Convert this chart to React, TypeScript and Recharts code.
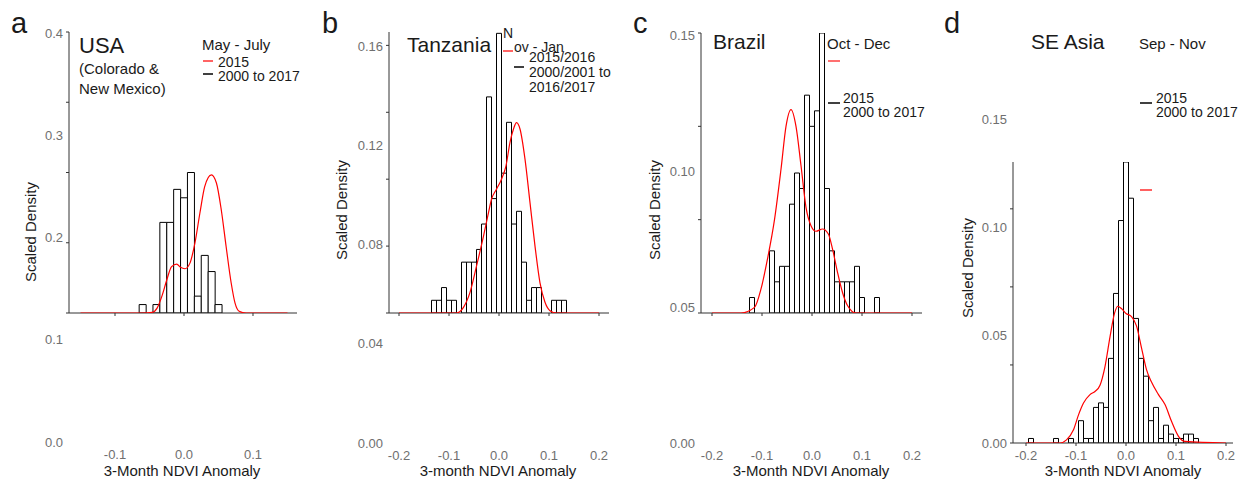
import React from "react";
import { ComposedChart, Bar, Line, XAxis, YAxis } from "recharts";

const FONT = "'Liberation Sans', Arial, Helvetica, sans-serif";
const TICK_GREY = "#6f6f6f";
const INK = "#1a1a1a";
const AXIS = "#333";

// a - USA (Colorado & New Mexico), May - July
const binsA = [-0.06, -0.05, -0.04, -0.03, -0.02, -0.01, 0, 0.01, 0.02, 0.03, 0.04, 0.05];
const histA = [0.012, 0, 0.012, 0.129, 0.129, 0.176, 0.164, 0.2, 0.024, 0.082, 0.059, 0.012];
const curveXA = [-0.15, -0.06, -0.046, -0.039, -0.032, -0.025, -0.018, -0.0105, -0.005, 0.0014, 0.0086, 0.0158, 0.023, 0.03, 0.0397, 0.047, 0.054, 0.061, 0.0684, 0.074, 0.08, 0.09, 0.15];
const curveYA = [0, 0, 0.001, 0.007, 0.024, 0.047, 0.066, 0.0697, 0.065, 0.063, 0.071, 0.0995, 0.142, 0.18, 0.1967, 0.185, 0.147, 0.095, 0.0427, 0.014, 0.0024, 0, 0];

// b - Tanzania, Nov - Jan
const binsB = [-0.13, -0.12, -0.11, -0.1, -0.09, -0.08, -0.07, -0.06, -0.05, -0.04, -0.03, -0.02, -0.01, 0, 0.01, 0.02, 0.03, 0.04, 0.05, 0.06, 0.07, 0.08, 0.09, 0.1, 0.11, 0.12, 0.13];
const histB = [0.0076, 0.0076, 0.0152, 0.0076, 0.0076, 0, 0.0304, 0.0304, 0.0304, 0.038, 0.0532, 0.1292, 0.0684, 0.1672, 0.0836, 0.114, 0.0532, 0.0608, 0.0304, 0.0076, 0.0152, 0.0152, 0, 0, 0.0076, 0.0076, 0.0076];
const curveXB = [-0.2, -0.085, -0.071, -0.058, -0.045, -0.031, -0.021, -0.015, -0.005, 0.005, 0.014, 0.022, 0.029, 0.035, 0.042, 0.052, 0.062, 0.072, 0.082, 0.092, 0.102, 0.115, 0.2];
const curveYB = [0, 0, 0.0034, 0.0123, 0.028, 0.046, 0.06, 0.068, 0.074, 0.08, 0.088, 0.102, 0.11, 0.1138, 0.11, 0.092, 0.066, 0.04, 0.018, 0.0064, 0.0014, 0, 0];

// c - Brazil, Oct - Dec
const binsC = [-0.12, -0.11, -0.1, -0.09, -0.08, -0.07, -0.06, -0.05, -0.04, -0.03, -0.02, -0.01, 0, 0.01, 0.02, 0.03, 0.04, 0.05, 0.06, 0.07, 0.08, 0.09, 0.1, 0.11, 0.12, 0.13];
const histC = [0.0083, 0, 0, 0, 0.0333, 0.0167, 0.025, 0.025, 0.0583, 0.075, 0.0667, 0.1167, 0.1, 0.1083, 0.15, 0.0667, 0.0333, 0.0167, 0.0167, 0.0167, 0.0167, 0.025, 0.0083, 0, 0, 0.0083];
const curveXC = [-0.2, -0.142, -0.115, -0.102, -0.089, -0.075, -0.062, -0.052, -0.042, -0.032, -0.022, -0.012, -0.002, 0.008, 0.021, 0.0327, 0.041, 0.051, 0.061, 0.071, 0.088, 0.2];
const curveYC = [0, 0, 0.003, 0.0129, 0.029, 0.05, 0.077, 0.1, 0.109, 0.1, 0.079, 0.0566, 0.0468, 0.0438, 0.045, 0.0423, 0.0343, 0.0218, 0.011, 0.004, 0, 0];

// d - SE Asia, Sep - Nov
const binsD = [-0.19, -0.18, -0.17, -0.16, -0.15, -0.14, -0.13, -0.12, -0.11, -0.1, -0.09, -0.08, -0.07, -0.06, -0.05, -0.04, -0.03, -0.02, -0.01, 0, 0.01, 0.02, 0.03, 0.04, 0.05, 0.06, 0.07, 0.08, 0.09, 0.1, 0.11, 0.12, 0.13, 0.14];
const histD = [0.0029, 0, 0, 0, 0, 0.0029, 0, 0, 0.0029, 0, 0.0143, 0.0029, 0.0029, 0.0228, 0.0257, 0.0228, 0.0542, 0.0958, 0.1425, 0.18, 0.1568, 0.0798, 0.0542, 0.0428, 0.0143, 0.0228, 0.0029, 0.0114, 0.0057, 0.0029, 0.0029, 0.0057, 0.0057, 0.0029];
const curveXD = [-0.2, -0.132, -0.119, -0.105, -0.095, -0.085, -0.072, -0.062, -0.052, -0.042, -0.032, -0.023, -0.0167, -0.0087, 0, 0.011, 0.021, 0.031, 0.041, 0.051, 0.065, 0.078, 0.091, 0.105, 0.118, 0.2];
const curveYD = [0, 0, 0.002, 0.0085, 0.018, 0.0256, 0.031, 0.033, 0.037, 0.049, 0.068, 0.083, 0.0876, 0.086, 0.083, 0.081, 0.075, 0.061, 0.047, 0.039, 0.031, 0.0246, 0.0139, 0.0043, 0.001, 0];

const xTicksWide = [-0.2, -0.1, 0, 0.1, 0.2];

type Layout = {
  left: number;
  right: number;
  top: number;
  bottom: number;
  xDomain: [number, number];
  xTicks: number[];
  yDomain: [number, number];
  yTicks: number[];
  labelTop: number;
  labelBottom: number;
  labelDomain: [number, number];
  labelTicks: number[];
  digits: number;
};

const layoutA: Layout = {
  left: 69, right: 297, top: 32, bottom: 313,
  xDomain: [-0.1667, 0.1638], xTicks: [-0.1, 0, 0.1],
  yDomain: [0, 0.4], yTicks: [0, 0.1, 0.2, 0.3, 0.4],
  labelTop: 33, labelBottom: 442, labelDomain: [0, 0.4], labelTicks: [0, 0.1, 0.2, 0.3, 0.4], digits: 1,
};
const layoutB: Layout = {
  left: 389, right: 609, top: 32, bottom: 313,
  xDomain: [-0.22, 0.22], xTicks: xTicksWide,
  yDomain: [0, 0.168], yTicks: [0, 0.04, 0.08, 0.12, 0.16],
  labelTop: 46, labelBottom: 443, labelDomain: [0, 0.16], labelTicks: [0, 0.04, 0.08, 0.12, 0.16], digits: 2,
};
const layoutC: Layout = {
  left: 701, right: 922, top: 33, bottom: 313,
  xDomain: [-0.222, 0.22], xTicks: xTicksWide,
  yDomain: [0, 0.15], yTicks: [0, 0.05, 0.1, 0.15],
  labelTop: 35, labelBottom: 443, labelDomain: [0, 0.15], labelTicks: [0, 0.05, 0.1, 0.15], digits: 2,
};
const layoutD: Layout = {
  left: 1013, right: 1233, top: 162, bottom: 443,
  xDomain: [-0.226, 0.214], xTicks: xTicksWide,
  yDomain: [0, 0.18], yTicks: [0, 0.05, 0.1, 0.15],
  labelTop: 119, labelBottom: 443, labelDomain: [0, 0.15], labelTicks: [0, 0.05, 0.1, 0.15], digits: 2,
};

const G = 8; // room for tick marks
const LW = 50; // room for printed y labels
const PAD = 12;

const tickStyle = { fill: TICK_GREY, fontSize: 13, fontFamily: FONT };

// short tick marks only, no text
const XMark = (p: any) => <line x1={p.x} x2={p.x} y1={p.y} y2={p.y + 3} stroke={AXIS} strokeWidth={1} />;
const YMark = (p: any) => <line x1={p.x - 3} x2={p.x} y1={p.y} y2={p.y} stroke={AXIS} strokeWidth={1} />;

function Panel({ L, bins, hist, cx, cy }: { L: Layout; bins: number[]; hist: number[]; cx: number[]; cy: number[] }) {
  const histData = bins.map((x, i) => ({ x, v: hist[i] }));
  const curveData = cx.map((x, i) => ({ x, y: cy[i] }));
  const w = L.right - L.left + G + 2;
  const h = L.bottom - L.top + G + 2;
  return (
    <>
      {/* printed tick labels (they sit off the drawn axes in the original) */}
      <div style={{ position: "absolute", left: L.left - LW, top: 0 }}>
        <ComposedChart
          width={L.right - L.left + LW + PAD}
          height={481}
          data={histData}
          margin={{ top: L.labelTop, right: PAD, bottom: 0, left: 0 }}
        >
          <XAxis
            dataKey="x"
            type="number"
            domain={L.xDomain}
            ticks={L.xTicks}
            interval={0}
            allowDataOverflow
            axisLine={false}
            tickLine={false}
            tickSize={0}
            tickMargin={8}
            height={481 - L.labelBottom}
            tick={tickStyle}
            tickFormatter={(v: number) => v.toFixed(1)}
          />
          <YAxis
            type="number"
            domain={L.labelDomain}
            ticks={L.labelTicks}
            interval={0}
            allowDataOverflow
            axisLine={false}
            tickLine={false}
            tickSize={0}
            tickMargin={6}
            width={LW}
            tick={tickStyle}
            tickFormatter={(v: number) => v.toFixed(L.digits)}
          />
        </ComposedChart>
      </div>

      {/* histogram 2000-2017 with the drawn axes */}
      <div style={{ position: "absolute", left: L.left - G, top: L.top - 2 }}>
        <ComposedChart
          width={w}
          height={h}
          data={histData}
          margin={{ top: 2, right: 2, bottom: 0, left: 0 }}
          barCategoryGap={0}
          barGap={0}
        >
          <XAxis
            dataKey="x"
            type="number"
            domain={L.xDomain}
            ticks={L.xTicks}
            interval={0}
            allowDataOverflow
            tick={XMark}
            tickLine={false}
            tickSize={0}
            tickMargin={0}
            height={G}
            axisLine={{ stroke: AXIS, strokeWidth: 1 }}
          />
          <YAxis
            type="number"
            domain={L.yDomain}
            ticks={L.yTicks}
            interval={0}
            allowDataOverflow
            tick={YMark}
            tickLine={false}
            tickSize={0}
            tickMargin={0}
            width={G}
            axisLine={{ stroke: AXIS, strokeWidth: 1 }}
          />
          <Bar dataKey="v" fill="#fff" stroke="#000" strokeWidth={1} isAnimationActive={false} />
        </ComposedChart>
      </div>

      {/* 2015 density, same box and scales */}
      <div style={{ position: "absolute", left: L.left - G, top: L.top - 2 }}>
        <ComposedChart width={w} height={h} data={curveData} margin={{ top: 2, right: 2, bottom: 0, left: 0 }}>
          <XAxis dataKey="x" type="number" domain={L.xDomain} allowDataOverflow height={G} tick={false} axisLine={false} tickLine={false} />
          <YAxis type="number" domain={L.yDomain} allowDataOverflow width={G} tick={false} axisLine={false} tickLine={false} />
          <Line dataKey="y" type="monotone" stroke="#ff0000" strokeWidth={1.2} dot={false} isAnimationActive={false} />
        </ComposedChart>
      </div>
    </>
  );
}

const yTitles = [
  { x: 31, y: 232 },
  { x: 342, y: 210 },
  { x: 655, y: 210 },
  { x: 968, y: 268 },
];
const xTitles = [
  { x: 182, t: "3-Month NDVI Anomaly" },
  { x: 498, t: "3-month NDVI Anomaly" },
  { x: 811, t: "3-Month NDVI Anomaly" },
  { x: 1123, t: "3-Month NDVI Anomaly" },
];

function Annotations() {
  return (
    <svg
      width={1246}
      height={481}
      style={{ position: "absolute", left: 0, top: 0, pointerEvents: "none" }}
      fontFamily={FONT}
      fill={INK}
    >
      {/* panel letters */}
      <text x={11} y={33} fontSize={29}>a</text>
      <text x={322} y={33} fontSize={29}>b</text>
      <text x={633} y={33} fontSize={29}>c</text>
      <text x={944} y={33} fontSize={29}>d</text>

      {/* a */}
      <text x={79} y={53} fontSize={22}>USA</text>
      <text x={79} y={74} fontSize={15}>(Colorado &amp;</text>
      <text x={79} y={94} fontSize={15}>New Mexico)</text>
      <text x={202} y={50} fontSize={15}>May - July</text>
      <line x1={203} x2={213} y1={61} y2={61} stroke="#ff3030" strokeWidth={1.5} />
      <text x={218} y={67} fontSize={14}>2015</text>
      <line x1={203} x2={213} y1={74} y2={74} stroke="#000" strokeWidth={1.5} />
      <text x={218} y={81} fontSize={14}>2000 to 2017</text>

      {/* b */}
      <text x={407} y={52} fontSize={21}>Tanzania</text>
      <text x={503} y={38} fontSize={14}>N</text>
      <line x1={503} x2={513} y1={51} y2={51} stroke="#ff3030" strokeWidth={1.5} />
      <text x={514} y={52} fontSize={14}>ov - Jan</text>
      <text x={529} y={62} fontSize={14}>2015/2016</text>
      <line x1={514} x2={524} y1={67} y2={67} stroke="#000" strokeWidth={1.5} />
      <text x={529} y={77} fontSize={14}>2000/2001 to</text>
      <text x={529} y={92} fontSize={14}>2016/2017</text>

      {/* c */}
      <text x={713} y={49} fontSize={21}>Brazil</text>
      <text x={827} y={49} fontSize={15}>Oct - Dec</text>
      <line x1={828} x2={840} y1={61} y2={61} stroke="#ff4040" strokeWidth={1.5} />
      <line x1={828} x2={840} y1={103} y2={103} stroke="#000" strokeWidth={1.5} />
      <text x={843} y={103} fontSize={14}>2015</text>
      <text x={843} y={117} fontSize={14}>2000 to 2017</text>

      {/* d */}
      <text x={1031} y={49} fontSize={21}>SE Asia</text>
      <text x={1139} y={49} fontSize={15}>Sep - Nov</text>
      <line x1={1140} x2={1152} y1={103} y2={103} stroke="#000" strokeWidth={1.5} />
      <text x={1156} y={103} fontSize={14}>2015</text>
      <text x={1156} y={117} fontSize={14}>2000 to 2017</text>
      <line x1={1140} x2={1152} y1={190} y2={190} stroke="#ff5050" strokeWidth={1.8} />

      {yTitles.map((p, i) => (
        <text
          key={`yt-${i}`}
          transform={`translate(${p.x},${p.y}) rotate(-90)`}
          textAnchor="middle"
          dy="0.35em"
          fontSize={15}
        >
          Scaled Density
        </text>
      ))}
      {xTitles.map((p, i) => (
        <text key={`xt-${i}`} x={p.x} y={476} textAnchor="middle" fontSize={15}>
          {p.t}
        </text>
      ))}
    </svg>
  );
}

export default function App() {
  return (
    <div style={{ position: "absolute", left: 0, top: 0, width: 1246, height: 481, background: "#fff", fontFamily: FONT }}>
      <Panel L={layoutA} bins={binsA} hist={histA} cx={curveXA} cy={curveYA} />
      <Panel L={layoutB} bins={binsB} hist={histB} cx={curveXB} cy={curveYB} />
      <Panel L={layoutC} bins={binsC} hist={histC} cx={curveXC} cy={curveYC} />
      <Panel L={layoutD} bins={binsD} hist={histD} cx={curveXD} cy={curveYD} />
      <Annotations />
    </div>
  );
}
